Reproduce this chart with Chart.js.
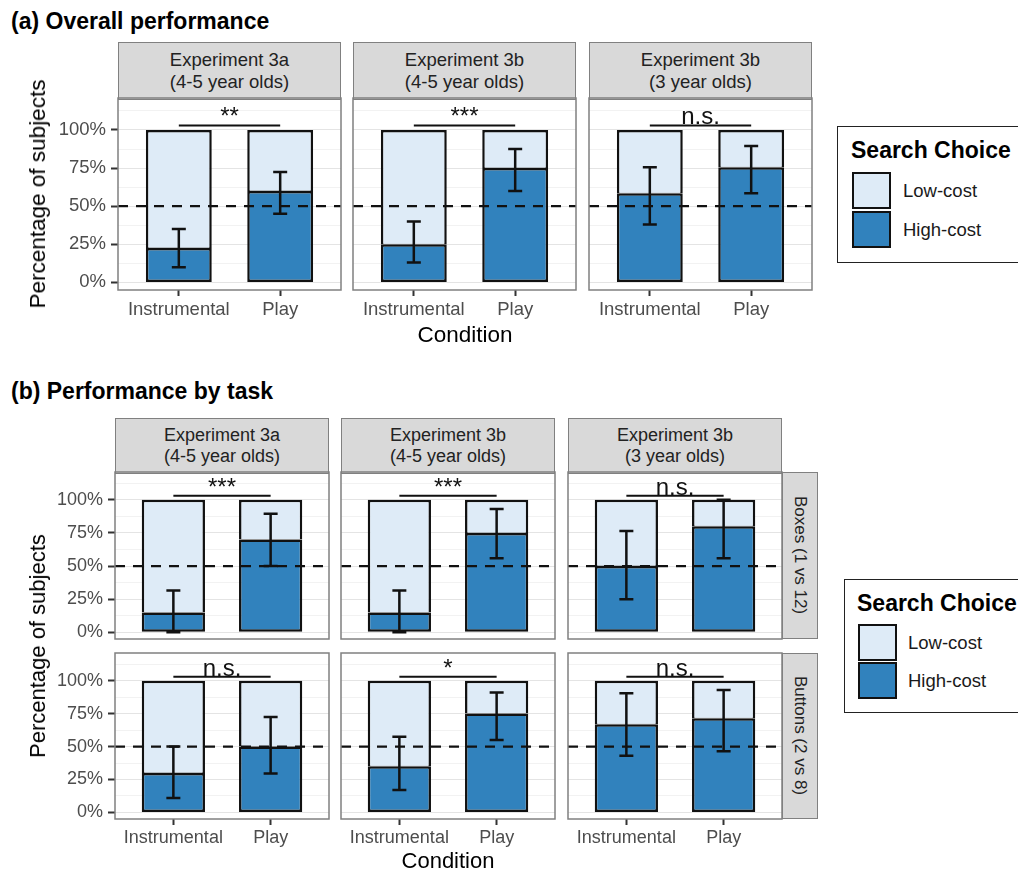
<!DOCTYPE html>
<html>
<head>
<meta charset="utf-8">
<script src="https://cdn.jsdelivr.net/npm/chart.js@4.4.1/dist/chart.umd.min.js"></script>
<style>
  html, body { margin: 0; padding: 0; background: #fff; }
  body { width: 1018px; height: 873px; position: relative; overflow: hidden;
         font-family: 'Liberation Sans', Arial, Helvetica, sans-serif; }
  .abs { position: absolute; }
  .title { font-weight: bold; font-size: 23px; color: #000; white-space: nowrap; }
  .strip { background: #d9d9d9; border: 1.5px solid #808080; box-sizing: border-box;
           display: flex; align-items: center; justify-content: center; text-align: center;
           color: #222; }
  .rstrip { writing-mode: vertical-rl; white-space: nowrap; }
  .axtitle { font-size: 22.5px; color: #000; white-space: nowrap; }
  .legend { border: 1.5px solid #222; box-sizing: border-box; background: #fff; }
  .ltitle { font-weight: bold; font-size: 23px; color: #000; white-space: nowrap; }
  .lkey { border: 2.5px solid #111; box-sizing: border-box; }
  .llabel { font-size: 18.5px; color: #1a1a1a; white-space: nowrap; }
  canvas { position: absolute; }
</style>
</head>
<body>
<script>
// ---- data ----
const conditions = ['Instrumental', 'Play'];
const experiments = [
  ['Experiment 3a', '(4-5 year olds)'],
  ['Experiment 3b', '(4-5 year olds)'],
  ['Experiment 3b', '(3 year olds)']
];
const tasks = ['Boxes (1 vs 12)', 'Buttons (2 vs 8)'];
const choices = ['Low-cost', 'High-cost'];
const yTicks = [0, 25, 50, 75, 100];
const chanceLevel = 50;
const sigBarLevel = 103;

// (a) overall performance, per experiment: [Instrumental, Play]
const overallHighCost = [[22.5, 60], [25, 75], [58.5, 75.5]];
const overallLowCost  = [[77.5, 40], [75, 25], [41.5, 24.5]];
const overallCiLow    = [[10, 45], [13, 60], [38, 58.5]];
const overallCiHigh   = [[35, 72.5], [40, 87.5], [75.5, 89.5]];
const overallSig      = ['**', '***', 'n.s.'];

// (b) Boxes (1 vs 12)
const boxesHighCost = [[15, 70], [15, 75], [50, 80]];
const boxesLowCost  = [[85, 30], [85, 25], [50, 20]];
const boxesCiLow    = [[0, 50], [0, 56], [25, 56]];
const boxesCiHigh   = [[31.5, 89.5], [31.5, 93], [76.5, 100]];
const boxesSig      = ['***', '***', 'n.s.'];

// (b) Buttons (2 vs 8)
const buttonsHighCost = [[30, 50], [35, 75], [67, 71.5]];
const buttonsLowCost  = [[70, 50], [65, 25], [33, 28.5]];
const buttonsCiLow    = [[11, 29.5], [17, 55], [43, 46.5]];
const buttonsCiHigh   = [[50, 72.5], [57.5, 91], [90.5, 93]];
const buttonsSig      = ['n.s.', '*', 'n.s.'];

// ---- styling ----
const FONT = "'Liberation Sans', Arial, Helvetica, sans-serif";
const HIGH_COL = '#3182bd';
const LOW_COL = '#deebf7';
const EDGE = '#111111';
const PANEL_EDGE = '#808080';
const Y_MIN = -5, Y_MAX = 121;

// grid lines: major at the labelled ticks, minor halfway between
const gridValues = [];
for (let v = 0; v <= 112.5; v += 12.5) gridValues.push(v);

function place(cls, x, y, w, h, html, extra) {
  const d = document.createElement('div');
  d.className = 'abs ' + cls;
  d.style.left = x + 'px'; d.style.top = y + 'px';
  if (w != null) d.style.width = w + 'px';
  if (h != null) d.style.height = h + 'px';
  if (extra) Object.assign(d.style, extra);
  d.innerHTML = html;
  document.body.appendChild(d);
  return d;
}
function centered(cls, cx, cy, text, extra) {
  const d = place(cls, cx, cy, null, null, text, extra);
  d.style.transform = 'translate(-50%, -50%)' + (extra && extra.rot ? ' rotate(' + extra.rot + ')' : '');
  return d;
}

// decorations drawn on top of the bars: error bars, chance line, significance bracket, panel frame
const facetDecor = {
  id: 'facetDecor',
  afterDatasetsDraw(chart, args, o) {
    const { ctx, chartArea: a, scales: { x, y } } = chart;
    ctx.save();
    ctx.beginPath(); ctx.rect(a.left, a.top, a.width, a.height); ctx.clip();
    ctx.strokeStyle = EDGE; ctx.lineWidth = 2.5;
    o.ciLo.forEach((lo, i) => {
      const px = x.getPixelForValue(i + 1);
      const y0 = y.getPixelForValue(lo), y1 = y.getPixelForValue(o.ciHi[i]);
      ctx.beginPath();
      ctx.moveTo(px, y0); ctx.lineTo(px, y1);
      ctx.moveTo(px - o.cap, y0); ctx.lineTo(px + o.cap, y0);
      ctx.moveTo(px - o.cap, y1); ctx.lineTo(px + o.cap, y1);
      ctx.stroke();
    });
    const cy = y.getPixelForValue(chanceLevel);
    ctx.lineWidth = 2.2;
    ctx.setLineDash([10, 8]);
    ctx.beginPath(); ctx.moveTo(a.left, cy); ctx.lineTo(a.right, cy); ctx.stroke();
    ctx.setLineDash([]);
    const sy = y.getPixelForValue(sigBarLevel);
    const x1 = x.getPixelForValue(1), x2 = x.getPixelForValue(conditions.length);
    ctx.lineWidth = 2;
    ctx.beginPath(); ctx.moveTo(x1, sy); ctx.lineTo(x2, sy); ctx.stroke();
    ctx.fillStyle = '#111';
    ctx.font = o.sigSize + 'px ' + FONT;
    ctx.textAlign = 'center'; ctx.textBaseline = 'alphabetic';
    ctx.fillText(o.sig, (x1 + x2) / 2, sy - 1);
    ctx.restore();
  },
  afterDraw(chart) {
    const { ctx, chartArea: a } = chart;
    ctx.save();
    ctx.strokeStyle = PANEL_EDGE; ctx.lineWidth = 1.5;
    ctx.strokeRect(a.left, a.top, a.width, a.height);
    ctx.restore();
  }
};

function drawFacet(s) {
  const M = 20;
  const yW = s.showY ? 60 : 0;
  const xH = s.showX ? 34 : 0;
  const cw = s.width + yW + 2 * M, ch = s.height + xH + 2 * M;
  const cv = document.createElement('canvas');
  cv.width = cw; cv.height = ch;
  cv.style.left = (s.left - yW - M) + 'px';
  cv.style.top = (s.top - M) + 'px';
  cv.style.width = cw + 'px'; cv.style.height = ch + 'px';
  document.body.appendChild(cv);
  const isMajor = c => c.tick && yTicks.includes(c.tick.value);
  new Chart(cv, {
    type: 'bar',
    data: {
      datasets: [
        { label: choices[1], data: conditions.map((c, i) => ({ x: i + 1, y: s.high[i] })),
          backgroundColor: HIGH_COL, borderColor: EDGE, borderWidth: 2.5, borderSkipped: false },
        { label: choices[0], data: conditions.map((c, i) => ({ x: i + 1, y: s.low[i] })),
          backgroundColor: LOW_COL, borderColor: EDGE,
          borderWidth: { top: 2.5, left: 2.5, right: 2.5, bottom: 0.5 }, borderSkipped: false }
      ]
    },
    options: {
      responsive: false, animation: false, devicePixelRatio: 1,
      layout: { padding: M },
      barPercentage: 0.65, categoryPercentage: 1,
      plugins: {
        legend: { display: false }, tooltip: { enabled: false },
        facetDecor: { ciLo: s.ciLo, ciHi: s.ciHi, sig: s.sig, cap: 7, sigSize: 24 }
      },
      scales: {
        x: {
          type: 'linear', min: 0.4, max: conditions.length + 0.6, stacked: true, offset: false,
          afterBuildTicks: sc => { sc.ticks = conditions.map((c, i) => ({ value: i + 1 })); },
          afterFit: sc => { sc.height = xH; },
          ticks: { display: s.showX, callback: v => conditions[v - 1], maxRotation: 0, minRotation: 0,
                   autoSkip: false, color: '#4d4d4d', padding: s.xPad,
                   font: { family: FONT, size: s.tickSize } },
          grid: { display: true, drawOnChartArea: false, drawTicks: s.showX, tickLength: 6,
                  tickColor: '#333', tickWidth: 2, offset: false },
          border: { display: false }
        },
        y: {
          type: 'linear', min: Y_MIN, max: Y_MAX, stacked: true,
          afterBuildTicks: sc => { sc.ticks = gridValues.map(v => ({ value: v })); },
          afterFit: sc => { sc.width = yW; },
          ticks: { display: s.showY, autoSkip: false, color: '#4d4d4d', padding: 5,
                   callback: v => yTicks.includes(v) ? v + '%' : '',
                   font: { family: FONT, size: s.tickSize } },
          grid: { drawTicks: s.showY, tickLength: 7,
                  color: c => isMajor(c) ? '#e4e4e4' : '#f2f2f2',
                  tickColor: c => isMajor(c) ? '#333' : 'rgba(0,0,0,0)',
                  lineWidth: 1, tickWidth: 2 },
          border: { display: false }
        }
      }
    },
    plugins: [facetDecor]
  });
}

function legendBlock(x, y, h, tx, ty, kx, ky, lx) {
  place('legend', x, y, 200, h, '');
  place('ltitle', tx, ty - 13, null, null, 'Search Choice');
  const cols = [LOW_COL, HIGH_COL];
  [choices[0], choices[1]].forEach((lab, i) => {
    place('lkey', kx, ky[i], 39, 37, '', { background: cols[i] });
    place('llabel', lx, ky[i] + 18.5 - 11, null, null, lab);
  });
}

// ---------- (a) Overall performance ----------
place('title', 11, 8, null, null, '(a) Overall performance');
const aLefts = [118, 353, 589], aW = 223, aTop = 98, aH = 192;
experiments.forEach((e, j) => {
  place('strip', aLefts[j], 42, aW, 57.5, e.join('<br>'), { fontSize: '18.5px', lineHeight: '22px' });
  drawFacet({ left: aLefts[j], top: aTop, width: aW, height: aH, showY: j === 0, showX: true,
              tickSize: 18.5, xPad: 3,
              high: overallHighCost[j], low: overallLowCost[j],
              ciLo: overallCiLow[j], ciHi: overallCiHigh[j], sig: overallSig[j] });
});
centered('axtitle', 38, 194, 'Percentage of subjects', { rot: '-90deg' });
centered('axtitle', 465, 335, 'Condition');
legendBlock(837, 126, 137, 851, 150, 852, [172, 211], 903);

// ---------- (b) Performance by task ----------
place('title', 11, 378, null, null, '(b) Performance by task');
const bLefts = [115, 341, 568], bW = 214, bTops = [472, 653], bH = 167;
const bRows = [
  { high: boxesHighCost, low: boxesLowCost, lo: boxesCiLow, hi: boxesCiHigh, sig: boxesSig },
  { high: buttonsHighCost, low: buttonsLowCost, lo: buttonsCiLow, hi: buttonsCiHigh, sig: buttonsSig }
];
experiments.forEach((e, j) => {
  place('strip', bLefts[j], 418, bW, 55.5, e.join('<br>'), { fontSize: '18px', lineHeight: '21px' });
});
bRows.forEach((r, k) => {
  experiments.forEach((e, j) => {
    drawFacet({ left: bLefts[j], top: bTops[k], width: bW, height: bH - k, showY: j === 0, showX: k === 1,
                tickSize: 18, xPad: 2,
                high: r.high[j], low: r.low[j], ciLo: r.lo[j], ciHi: r.hi[j], sig: r.sig[j] });
  });
  place('strip rstrip', 782, bTops[k], 36, bH - k, tasks[k], { fontSize: '17px' });
});
centered('axtitle', 38, 646, 'Percentage of subjects', { rot: '-90deg', fontSize: '22px' });
centered('axtitle', 448, 861, 'Condition', { fontSize: '22px' });
legendBlock(844, 579, 134, 857, 603, 858, [624, 662], 908);
</script>
</body>
</html>
